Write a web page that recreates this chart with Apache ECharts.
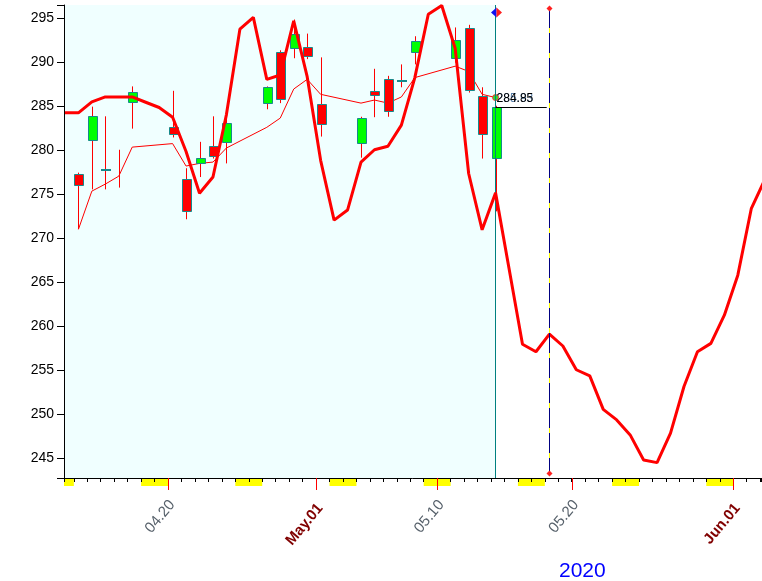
<!DOCTYPE html>
<html><head><meta charset="utf-8">
<script src="https://cdn.jsdelivr.net/npm/echarts@6/dist/echarts.min.js"></script>
<style>html,body{margin:0;padding:0;background:#fff}#c{width:762px;height:581px}</style>
</head><body><div id="c"></div>
<script>
// ---------------- data ----------------
const year = 2020;
const candleDates = ['04-13','04-14','04-15','04-16','04-17','04-20','04-21','04-22','04-23','04-24',
  '04-27','04-28','04-29','04-30','05-01','05-04','05-05','05-06','05-07','05-08',
  '05-11','05-12','05-13','05-14'];
const openVals  = [277.2,281.1,277.7,null,285.5,282.6,276.7,278.5,280.45,280.8,
  285.3,291.1,291.6,291.7,285.2,280.8,286.7,288.0,287.8,291.1,
  290.5,293.8,286.1,279.0];
const closeVals = [275.9,283.8,277.7,null,286.6,281.75,273.1,279.1,279.3,283.0,
  287.1,285.8,293.2,290.65,282.9,283.6,286.3,284.4,287.8,292.4,
  292.5,286.8,281.75,284.85];
const highVals  = [277.4,284.9,283.8,280.0,287.2,286.7,277.9,280.9,283.8,283.6,
  287.2,291.3,294.8,293.2,290.5,283.75,289.2,288.4,289.7,292.9,
  293.9,294.2,287.1,285.0];
const lowVals   = [271.0,275.5,275.5,275.7,282.4,281.4,272.1,276.9,279.0,278.45,
  284.6,285.3,290.4,290.3,281.5,279.1,283.7,283.75,287.1,289.7,
  289.9,286.5,279.0,273.0];
const maVals    = [270.95,275.3,276.1,277.0,280.3,280.7,278.15,278.45,278.6,280.2,
  282.55,283.6,286.9,288.0,286.3,285.3,285.65,285.3,286.0,288.2,
  289.5,288.9,286.3,285.93];
const trendStart = '04-12';
const trendVals = [
  284.2,284.2,285.45,286.0,286.0,286.0,285.4,284.8,283.7,279.8,
  275.05,276.9,284.0,293.7,295.05,288.0,288.5,294.65,288.3,
  278.8,272.0,273.15,278.6,280.0,280.4,282.8,288.2,295.4,296.4,
  291.5,277.3,270.9,275.1,266.5,257.9,257.05,259.05,257.7,255.0,
  254.3,250.5,249.3,247.6,244.75,244.45,247.8,253.1,257.05,258.0,261.2,
  265.75,273.3,276.6];
const tickLabelDates = ['04-20','05-01','05-10','05-20','06-01'];
const tickLabels = ['04.20','May.01','05.10','05.20','Jun.01'];
const yearLabel = '2020';
const forecastMarkDate = '05-18';
const lastCloseText = '284.85';
const lastMaText = '285.93';
const axisEndDate = '06-03';

// ---------------- helpers ----------------
const DAY_MS = 86400000;
const BASE = Date.UTC(year, 3, 1);
function dayNum(md){ const p = md.split('-').map(Number); return (Date.UTC(year, p[0]-1, p[1]) - BASE)/DAY_MS; }
const TOD = 0.34; // time-of-day offset of each sample
const xMin = dayNum(trendStart) + 0.27;
const xMax = dayNum(axisEndDate) + 0.1;
const yMin = 242.7, yMax = 296.45;

const candleX = candleDates.map(d => dayNum(d) + TOD);
const candleData = candleDates.map((d,i) => [candleX[i],
  openVals[i]==null?'-':openVals[i], closeVals[i]==null?'-':closeVals[i], lowVals[i], highVals[i]]);
const maData = maVals.map((v,i) => i === maVals.length-1
  ? {value:[candleX[i], v], symbol:'circle', symbolSize:6, itemStyle:{color:'#2EE02E', borderColor:'#FF3030', borderWidth:1}}
  : {value:[candleX[i], v], symbol:'none'});
const trendData = trendVals.map((v,i) => [dayNum(trendStart) + i + TOD, v]);
const lastX = candleX[candleX.length-1];
const lastClose = closeVals[closeVals.length-1];
const lastMa = maVals[maVals.length-1];
const markX = dayNum(forecastMarkDate) + TOD;

// weekend bands (Saturday tick -> Monday tick)
const weekendData = [];
for (let d = Math.floor(xMin) - 1; d <= Math.ceil(xMax); d++) {
  if (new Date(BASE + d*DAY_MS).getUTCDay() === 6) weekendData.push([d, yMin]);
}
const labelData = tickLabelDates.map((d,i) => [dayNum(d), yMin, i]);

const FAMILY = '"Liberation Sans", Arial, sans-serif';
const ROT = 50 * Math.PI / 180;

// ---------------- chart ----------------
const chart = echarts.init(document.getElementById('c'));
chart.setOption({
  animation: false,
  backgroundColor: '#ffffff',
  grid: {left: 64, right: 0.5, top: 5, bottom: 103, containLabel: false},
  xAxis: {
    type: 'value', min: xMin, max: xMax, minInterval: 1, maxInterval: 1,
    axisLine: {onZero: false, lineStyle: {color: '#000', width: 1}},
    axisTick: {length: 4, lineStyle: {color: '#000', width: 1}},
    axisLabel: {show: false},
    splitLine: {show: false}
  },
  yAxis: {
    type: 'value', min: yMin, max: yMax, minInterval: 5, maxInterval: 5,
    axisLine: {show: true, onZero: false, lineStyle: {color: '#000', width: 1}},
    axisTick: {show: true, length: 7, lineStyle: {color: '#000', width: 1}},
    axisLabel: {margin: 10, color: '#000', fontSize: 14, fontFamily: '"Liberation Sans Narrow", "Liberation Sans", Arial',
      formatter: v => (Math.abs(v/5 - Math.round(v/5)) < 1e-6 ? String(Math.round(v)) : '')},
    splitLine: {show: false}
  },
  graphic: [{type: 'text', left: 559, top: 561, style: {text: yearLabel, fill: '#0000FF', fontSize: 21, fontFamily: FAMILY}}],
  series: [
    { // history background
      type: 'custom', z: -2, silent: true, clip: false,
      data: [[xMin, yMax, lastX, yMin]],
      renderItem: (params, api) => {
        const a = api.coord([api.value(0), api.value(1)]);
        const b = api.coord([api.value(2), api.value(3)]);
        return {type: 'rect', shape: {x: a[0], y: a[1], width: b[0]-a[0], height: b[1]-a[1]}, style: {fill: '#F0FFFF'}};
      }
    },
    { // weekend bands below axis
      type: 'custom', z: -1, silent: true, clip: false,
      data: weekendData,
      renderItem: (params, api) => {
        const left = api.coord([xMin, yMin])[0];
        const right = api.coord([xMax, yMin])[0];
        const a = api.coord([api.value(0), api.value(1)]);
        const b = api.coord([api.value(0) + 2, api.value(1)]);
        const x0 = Math.max(a[0], left), x1 = Math.min(b[0], right);
        if (x1 <= x0) return null;
        return {type: 'rect', shape: {x: x0, y: a[1] + 1, width: x1 - x0, height: 7}, style: {fill: '#FFFF00'}};
      }
    },
    { // major tick marks + labels
      type: 'custom', z: 5, silent: true, clip: false,
      data: labelData,
      renderItem: (params, api) => {
        const d = api.value(0);
        const p = api.coord([d, api.value(1)]);
        const px = Math.round(p[0]) + 0.5;
        const text = tickLabels[api.value(2)];
        const isMonth = new Date(BASE + d*DAY_MS).getUTCDate() === 1;
        return {type: 'group', children: [
          {type: 'line', shape: {x1: px, y1: p[1], x2: px, y2: p[1] + 12}, style: {stroke: '#FF0000', lineWidth: 1}},
          {type: 'text', x: p[0] - 1.5, y: p[1] + (isMonth ? 23 : 19.5), rotation: ROT,
            style: {text: text, align: 'right', verticalAlign: 'top',
              fontSize: 15, fontFamily: FAMILY, fontWeight: isMonth ? 'bold' : 'normal',
              fill: isMonth ? '#800000' : '#56606A'}}
        ]};
      }
    },
    { // moving average (thin)
      type: 'line', z: 3, data: maData, symbol: 'none',
      lineStyle: {color: '#FF0000', width: 1}, itemStyle: {color: '#FF0000'}
    },
    { // candles
      type: 'custom', z: 4,
      data: candleData,
      encode: {x: 0, y: [1, 2, 3, 4]},
      renderItem: (params, api) => {
        const x = api.value(0), o = api.value(1), c = api.value(2), l = api.value(3), h = api.value(4);
        const top = api.coord([x, h]), bot = api.coord([x, l]);
        const px = Math.round(top[0]);
        const children = [{type: 'line', shape: {x1: px + 0.5, y1: top[1], x2: px + 0.5, y2: bot[1]}, style: {stroke: '#FF0000', lineWidth: 1}}];
        if (!isNaN(o) && !isNaN(c)) {
          const pO = api.coord([x, o])[1], pC = api.coord([x, c])[1];
          if (Math.abs(pO - pC) < 1.5) {
            children.push({type: 'rect', shape: {x: px - 4, y: Math.round(pO) - 1, width: 10, height: 2}, style: {fill: '#168A8C'}});
          } else {
            const y0 = Math.min(pO, pC), y1 = Math.max(pO, pC);
            children.push({type: 'rect', shape: {x: px - 4 + 0.5, y: Math.round(y0) + 0.5, width: 9, height: Math.round(y1 - y0)},
              style: {fill: c > o ? '#00FF00' : '#FF0000', stroke: '#168A8C', lineWidth: 1}});
          }
        }
        return {type: 'group', children};
      },
      markLine: {
        silent: true, symbol: 'none', label: {show: false}, animation: false,
        data: [
          {xAxis: lastX, lineStyle: {color: '#008080', width: 1, type: 'solid'}},
          [{coord: [lastX, lastClose]}, {coord: [markX - 0.2, lastClose], lineStyle: {color: '#000000', width: 1, type: 'solid'}}]
        ]
      }
    },
    { // forecast / trend (thick)
      type: 'line', z: 6, data: trendData, symbol: 'none',
      lineStyle: {color: '#FF0000', width: 3}, itemStyle: {color: '#FF0000'}
    },
    { // markers: current-date diamond, forecast dashed line, value labels
      type: 'custom', z: 7, silent: true, clip: false,
      data: [[lastX, lastMa, markX]],
      renderItem: (params, api) => {
        const lx = api.value(0), ma = api.value(1), mx = api.value(2);
        const dTop = api.coord([lx, yMax]);
        const cx = Math.round(dTop[0]) + 0.5, cy = dTop[1] + 7.5;
        const mTop = api.coord([mx, yMax]), mBot = api.coord([mx, yMin]);
        const mxp = Math.round(mTop[0]) + 0.5;
        const pMa = api.coord([lx, ma]);
        const diamond = (x, y, r, fill) => ({type: 'polygon', shape: {points: [[x, y - r], [x + r, y], [x, y + r], [x - r, y]]}, style: {fill: fill}});
        return {type: 'group', children: [
          {type: 'line', shape: {x1: mxp, y1: mTop[1] + 3, x2: mxp, y2: mBot[1] - 4}, style: {stroke: '#FFFF00', lineWidth: 1}},
          {type: 'line', shape: {x1: mxp, y1: mTop[1] + 3, x2: mxp, y2: mBot[1] - 4}, style: {stroke: '#000080', lineWidth: 1, lineDash: [20, 5]}},
          diamond(mxp, mTop[1] + 3.5, 3, '#FF2020'),
          diamond(mxp, mBot[1] - 4.5, 3, '#FF2020'),
          {type: 'polygon', shape: {points: [[cx, cy - 5], [cx, cy + 5], [cx - 5.5, cy]]}, style: {fill: '#1010F0'}},
          {type: 'polygon', shape: {points: [[cx, cy - 5], [cx + 5.5, cy], [cx, cy + 5]]}, style: {fill: '#FF2020'}},
          {type: 'text', x: pMa[0] + 1, y: pMa[1] + 1, style: {text: lastMaText, align: 'left', verticalAlign: 'middle', fontSize: 12, fontFamily: FAMILY, fill: '#5A7FA8'}},
          {type: 'text', x: pMa[0] + 1, y: pMa[1] + 1, style: {text: lastCloseText, align: 'left', verticalAlign: 'middle', fontSize: 12, fontFamily: FAMILY, fill: '#000000'}}
        ]};
      }
    }
  ]
});
</script></body></html>
